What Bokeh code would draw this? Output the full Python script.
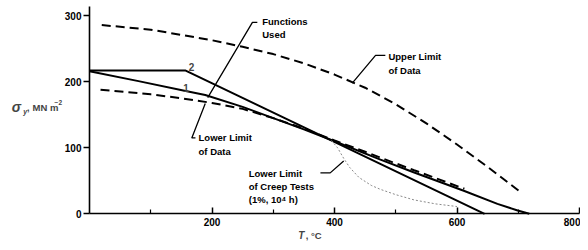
from bokeh.plotting import figure
from bokeh.models import Range1d, FixedTicker, Label, LinearAxis
from bokeh.embed import file_html
from bokeh.resources import INLINE

# ---- data (temperature in degC, stress in MN m^-2) ----
curve1_T = [0, 80, 157, 189, 250, 300, 350, 400, 475, 529, 611, 666, 699, 718]
curve1_S = [216, 201, 186, 180, 162, 145, 128, 110, 82, 63, 35, 15, 5, 0]

curve2_T = [0, 157, 645]
curve2_S = [217, 217, 0]

upper_T = [20, 100, 150, 200, 250, 300, 350, 400, 450, 500, 550, 600, 650, 705]
upper_S = [286, 279, 271, 263, 253, 242, 228, 211, 191, 166, 137, 105, 71, 32]

lower_T = [18, 100, 150, 200, 250, 300, 350, 400, 450, 475, 530, 612]
lower_S = [188, 181, 175, 168, 159, 145, 129, 111, 94, 85, 66, 38]

creep_T = [395, 405, 415, 425, 440, 460, 475, 500, 530, 565, 600]
creep_S = [111, 100, 84, 70, 55, 43, 37, 29, 21, 15, 11]

x_ticks = [200, 400, 600, 800]
x_minor = [100, 300, 500, 700]
y_ticks = [0, 100, 200, 300]

# annotation texts and leader lines (data coordinates)
notes = [
    ("Functions", 282, 291), ("Used", 282, 271.5),
    ("Upper Limit", 488, 238), ("of Data", 488, 217),
    ("Lower Limit", 178, 115), ("of Data", 178, 94),
    ("Lower Limit", 260, 61), ("of Creep Tests", 260, 41), ("(1%, 10\u2074 h)", 260, 21),
]
curve_ids = [("2", 162, 222), ("1", 153, 191)]
leaders = [
    ([274, 266, 193], [290, 290, 176]),
    ([173, 167, 189], [115, 115, 167]),
    ([377, 393, 415], [62, 62, 80]),
    ([483, 467, 429], [240, 240, 198]),
]

FONT = "Liberation Sans"

p = figure(width=580, height=242,
           x_range=Range1d(-145.3, 801.6), y_range=Range1d(-43.5, 323.2),
           x_axis_type=None, y_axis_type=None,
           output_backend="svg", toolbar_location=None, min_border=0)
p.outline_line_color = None
p.background_fill_color = "white"
p.border_fill_color = "white"

xaxis = LinearAxis(fixed_location=0, bounds=(0, 800),
                   ticker=FixedTicker(ticks=x_ticks, minor_ticks=x_minor))
yaxis = LinearAxis(fixed_location=0, bounds=(0, 314),
                   ticker=FixedTicker(ticks=y_ticks, minor_ticks=[]))
for ax in (xaxis, yaxis):
    ax.axis_line_color = "black"
    ax.axis_line_width = 1.6
    ax.major_tick_line_color = "black"
    ax.major_tick_line_width = 1.5
    ax.minor_tick_line_color = "black"
    ax.minor_tick_line_width = 1.2
    ax.major_label_text_font = FONT
    ax.major_label_text_font_style = "bold"
    ax.major_label_text_font_size = "10px"
    ax.major_label_text_color = "black"
xaxis.major_tick_in = 6
xaxis.major_tick_out = 0
xaxis.minor_tick_in = 4
xaxis.minor_tick_out = 0
xaxis.major_label_standoff = 4
yaxis.major_tick_in = 0
yaxis.major_tick_out = 6
yaxis.minor_tick_in = 0
yaxis.minor_tick_out = 0
yaxis.major_label_standoff = 2
p.add_layout(xaxis, "below")
p.add_layout(yaxis, "left")

# curves
p.line(upper_T, upper_S, line_color="black", line_width=2, line_dash="9 5")
p.line(lower_T, lower_S, line_color="black", line_width=2, line_dash="9 5")
p.line(curve1_T, curve1_S, line_color="black", line_width=2)
p.line(curve2_T, curve2_S, line_color="black", line_width=2)
p.line(creep_T, creep_S, line_color="#8a8a8a", line_width=1, line_dash="2 2")

# leader lines
for lx, ly in leaders:
    p.line(lx, ly, line_color="black", line_width=1.3)

# annotations
for txt, x, y in notes:
    p.add_layout(Label(x=x, y=y, text=txt, text_font=FONT, text_font_size="9.5px",
                       text_font_style="bold", text_baseline="middle", text_align="left",
                       text_color="black"))
for txt, x, y in curve_ids:
    p.add_layout(Label(x=x, y=y, text=txt, text_font=FONT, text_font_size="10px",
                       text_font_style="bold", text_baseline="middle", text_align="left"))

# y axis label pieces
ylab = [
    ("\u03c3", -127, 162, "14px", "bold italic"),
    ("y", -108, 155, "7px", "bold italic"),
    (",", -102, 160, "9px", "bold"),
    ("MN m", -93, 161, "9.5px", "bold"),
    ("\u22122", -57, 168, "6.5px", "bold"),
]
for txt, x, y, fs, st in ylab:
    p.add_layout(Label(x=x, y=y, text=txt, text_font=FONT, text_font_size=fs,
                       text_font_style=st, text_baseline="middle", text_align="left"))

# x axis label pieces
xlab = [
    ("T", 341, -33, "10px", "bold italic"),
    (",  \u00b0C", 353, -33, "9.5px", "bold"),
]
for txt, x, y, fs, st in xlab:
    p.add_layout(Label(x=x, y=y, text=txt, text_font=FONT, text_font_size=fs,
                       text_font_style=st, text_baseline="middle", text_align="left"))

open("out.html", "w").write(file_html(p, INLINE))
